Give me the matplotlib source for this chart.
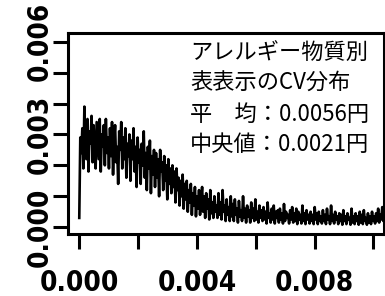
import numpy as np
import matplotlib
matplotlib.use("Agg")
import matplotlib.pyplot as plt
from matplotlib import font_manager
from matplotlib.font_manager import FontProperties

# CV distribution density (values in units of 1e-3), bins of equal width
cv_step = 0.0000348
density_e3 = [
    0.30, 2.90, 2.40, 3.20, 1.90, 3.90, 2.60, 2.20, 3.50, 1.80, 3.10, 2.70, 3.60, 2.10, 3.30,
    2.50, 1.90, 3.40, 2.80, 2.20, 3.50, 1.80, 3.00, 2.60, 3.30, 2.00, 3.50, 2.40, 2.90, 1.90,
    3.20, 2.30, 3.40, 1.70, 2.80, 3.30, 2.10, 2.60, 1.40, 3.10, 2.50, 3.40, 1.90, 2.90, 2.20,
    3.20, 1.60, 2.70, 2.30, 3.00, 1.50, 2.80, 2.20, 3.20, 1.80, 2.60, 1.30, 2.90, 2.10, 2.50,
    1.40, 2.70, 2.00, 3.10, 1.60, 2.40, 1.20, 2.60, 1.90, 2.80, 1.10, 2.30, 1.70, 2.50, 1.30,
    2.40, 1.60, 2.20, 1.00, 2.50, 1.80, 2.10, 1.20, 2.30, 1.50, 2.00, 0.90, 2.20, 1.40, 1.90,
    1.10, 2.00, 1.30, 1.80, 0.80, 1.90, 1.20, 1.60, 0.70, 1.50, 1.00, 1.70, 0.60, 1.40, 0.90,
    1.50, 0.50, 1.20, 0.80, 1.40, 0.40, 1.10, 0.70, 1.30, 0.35, 1.00, 0.60, 1.20, 0.40, 0.90,
    1.30, 0.50, 1.00, 0.30, 1.10, 0.60, 0.90, 0.25, 1.20, 0.45, 0.80, 0.30, 1.00, 0.50, 0.70,
    0.30, 1.10, 0.40, 0.80, 0.25, 1.20, 0.50, 0.70, 0.20, 0.90, 0.40, 0.65, 0.20, 1.00, 0.35,
    0.75, 0.20, 0.90, 0.40, 0.60, 0.15, 0.85, 0.35, 0.55, 0.20, 1.00, 0.30, 0.60, 0.15, 0.70,
    0.35, 0.55, 0.15, 0.80, 0.30, 0.60, 0.20, 0.90, 0.25, 0.50, 0.15, 0.70, 0.30, 0.55, 0.20,
    0.65, 0.25, 0.50, 0.12, 0.80, 0.30, 0.45, 0.15, 0.60, 0.25, 0.70, 0.12, 0.50, 0.30, 0.55,
    0.15, 0.60, 0.25, 0.45, 0.12, 0.75, 0.20, 0.50, 0.30, 0.40, 0.12, 0.55, 0.25, 0.65, 0.15,
    0.45, 0.20, 0.60, 0.10, 0.50, 0.25, 0.40, 0.12, 0.70, 0.20, 0.45, 0.10, 0.55, 0.25, 0.40,
    0.12, 0.50, 0.20, 0.40, 0.10, 0.65, 0.25, 0.45, 0.10, 0.50, 0.20, 0.35, 0.12, 0.55, 0.20,
    0.40, 0.10, 0.60, 0.25, 0.35, 0.10, 0.70, 0.20, 0.40, 0.12, 0.50, 0.25, 0.35, 0.10, 0.45,
    0.20, 0.40, 0.08, 0.55, 0.20, 0.35, 0.10, 0.45, 0.25, 0.30, 0.08, 0.60, 0.15, 0.35, 0.10,
    0.45, 0.20, 0.35, 0.08, 0.50, 0.15, 0.40, 0.10, 0.55, 0.20, 0.30, 0.08, 0.45, 0.15, 0.35,
    0.10, 0.50, 0.20, 0.35, 0.12, 0.45, 0.20, 0.60, 0.15, 0.40, 0.25, 0.65, 0.20, 0.45, 0.30,
]
x_ticks = [0.000, 0.002, 0.004, 0.006, 0.008, 0.010]
x_labels = ["0.000", "", "0.004", "", "0.008", ""]
y_ticks = [0.000, 0.001, 0.002, 0.003, 0.004, 0.005, 0.006]
y_labels = ["0.000", "", "", "0.003", "", "", "0.006"]
annot_lines = ["アレルギー物質別", "表表示のCV分布", "平　均：0.0056円", "中央値：0.0021円"]

cond = [f.fname for f in font_manager.fontManager.ttflist
        if f.fname.endswith("DejaVuSansCondensed-Bold.ttf")]
if cond:
    tick_fp = FontProperties(fname=cond[0], size=20)
else:
    tick_fp = FontProperties(family="DejaVu Sans", weight="bold", size=18)

y = np.array(density_e3) * 1e-3
x = np.arange(len(y)) * cv_step

fig = plt.figure(figsize=(3.85, 2.96), dpi=100)
ax = fig.add_axes([68/385, 62/296, (384-68)/385, (234-33)/296])
ax.plot(x, y, color="black", lw=1.9)
ax.set_xlim(-0.000383, 0.01036)
ax.set_ylim(-0.00022, 0.00628)
for s in ax.spines.values():
    s.set_linewidth(2.2)
ax.set_xticks(x_ticks)
ax.set_xticklabels(x_labels, fontproperties=tick_fp)
ax.set_yticks(y_ticks)
ax.set_yticklabels(y_labels, fontproperties=tick_fp, rotation=90, va="center")
ax.tick_params(axis="x", length=11, width=2.2, pad=14)
ax.tick_params(axis="y", length=11, width=2.2, pad=-1)

for i, line in enumerate(annot_lines):
    fig.text(190/385, 1 - (52.7 + 30.7*i)/296, line, fontsize=16,
             family=["Noto Sans CJK JP", "DejaVu Sans"], va="center", ha="left")

fig.savefig("out.png", dpi=100)
